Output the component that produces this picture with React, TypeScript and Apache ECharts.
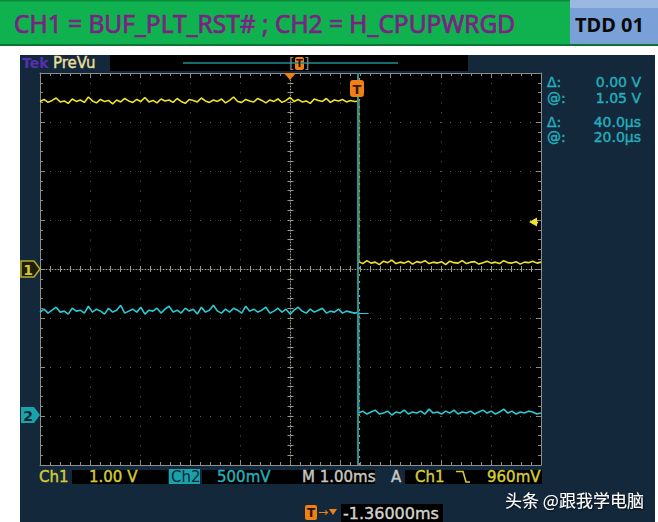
import React, { useEffect, useRef } from "react";
import * as echarts from "echarts";

// ---- data (volts) ----
const titleText = "CH1 = BUF_PLT_RST# ; CH2 = H_CPUPWRGD";
const tagText = "TDD 01";
const timeMin = -5; // ms (10 div, 1.00 ms/div)
const timeMax = 5;
const edgeTime = 1.36; // ms, trigger edge position

const ch1High = [
  3.42, 3.46, 3.40, 3.44, 3.49, 3.41, 3.43, 3.38, 3.47, 3.42,
  3.45, 3.40, 3.51, 3.43, 3.39, 3.46, 3.42, 3.44, 3.37, 3.45,
  3.41, 3.48, 3.43, 3.40, 3.46, 3.42, 3.50, 3.41, 3.44, 3.39,
  3.47, 3.43, 3.45, 3.40, 3.48, 3.42, 3.38, 3.46, 3.44, 3.41,
  3.49, 3.43, 3.40, 3.45, 3.42, 3.47, 3.39, 3.44, 3.51, 3.42,
  3.40, 3.46, 3.43, 3.41, 3.48, 3.44, 3.39, 3.45, 3.42, 3.47,
  3.40, 3.44, 3.50, 3.42, 3.46, 3.41, 3.43, 3.38, 3.47, 3.44,
  3.42, 3.48, 3.40, 3.45, 3.43, 3.46, 3.41, 3.44, 3.42, 3.43,
];
const ch1Low = [
  0.15, 0.11, 0.17, 0.12, 0.14, 0.09, 0.16, 0.13, 0.18, 0.11,
  0.14, 0.12, 0.16, 0.10, 0.15, 0.13, 0.17, 0.11, 0.14, 0.12,
  0.15, 0.09, 0.16, 0.13, 0.12, 0.17, 0.11, 0.14, 0.15, 0.10,
  0.13, 0.16, 0.12, 0.14, 0.11, 0.17, 0.13, 0.12, 0.15, 0.10,
  0.14, 0.13, 0.16, 0.12, 0.14,
];
const ch2High = [
  1.06, 1.09, 1.05, 1.08, 1.11, 1.06, 1.07, 1.04, 1.10, 1.07,
  1.08, 1.05, 1.12, 1.06, 1.09, 1.07, 1.04, 1.10, 1.06, 1.08,
  1.13, 1.05, 1.07, 1.09, 1.06, 1.11, 1.04, 1.08, 1.07, 1.10,
  1.05, 1.09, 1.12, 1.06, 1.08, 1.05, 1.10, 1.07, 1.09, 1.04,
  1.11, 1.06, 1.08, 1.13, 1.07, 1.05, 1.09, 1.06, 1.10, 1.08,
  1.05, 1.12, 1.07, 1.09, 1.06, 1.08, 1.11, 1.05, 1.07, 1.10,
  1.06, 1.09, 1.04, 1.08, 1.11, 1.07, 1.05, 1.09, 1.06, 1.08,
  1.10, 1.05, 1.07, 1.06, 1.09, 1.05, 1.07, 1.06, 1.05, 1.06,
];
const ch2Low = [
  0.03, 0.05, 0.02, 0.04, 0.06, 0.02, 0.03, 0.05, 0.01, 0.04,
  0.03, 0.06, 0.02, 0.04, 0.03, 0.05, 0.02, 0.07, 0.03, 0.04,
  0.02, 0.05, 0.03, 0.06, 0.02, 0.04, 0.03, 0.05, 0.02, 0.04,
  0.06, 0.03, 0.05, 0.02, 0.04, 0.07, 0.03, 0.05, 0.02, 0.04,
  0.03, 0.05, 0.04, 0.02, 0.03,
];

const cursorLabels = ["Δ:", "@:", "Δ:", "@:"];
const cursorValues = ["0.00 V", "1.05 V", "40.0µs", "20.0µs"];
const cursorVoltage = 1.05;
const cursorDelta = 0.04; // ms

const ch1Scale = "1.00 V";
const ch2Scale = "500mV";
const timeScale = "M 1.00ms";
const trigLevelText = "960mV";
const trigLevel = 0.96;
const horizPos = "-1.36000ms";
const watermark = "头条 @跟我学电脑";

const spread = (vals: number[], t0: number, t1: number) =>
  vals.map((v, i) => [t0 + ((t1 - t0) * i) / (vals.length - 1), v]);

const YELLOW = "#ece42c";
const CYAN = "#2ccad3";
const TEAL_TXT = "#23afbc";
const ORANGE = "#f07f14";
const NAVY = "#14283c";
const GRID = "#5e5e5e";
const BORDER = "#8c8c8c";
const FONT = '"DejaVu Sans"';

const txt = (
  x: number,
  y: number,
  text: string,
  fill: string,
  size: number,
  extra: any = {}
) => ({
  type: "text",
  x,
  y,
  z: 20,
  silent: true,
  style: {
    text,
    fill,
    font: `${extra.weight || "normal"} ${size}px ${extra.family || FONT}`,
    textAlign: extra.align || "left",
    align: extra.align || "left",
    textVerticalAlign: "middle",
    verticalAlign: "middle",
    lineHeight: extra.lineHeight || size,
    ...(extra.heavy ? { stroke: fill, lineWidth: 0.4 } : {}),
    ...(extra.style || {}),
  },
});

const rect = (x: number, y: number, w: number, h: number, fill: string, z = -10, r = 0) => ({
  type: "rect",
  z,
  silent: true,
  shape: { x, y, width: w, height: h, r },
  style: { fill },
});

export default function App() {
  const ref = useRef<HTMLDivElement>(null);

  useEffect(() => {
    if (!ref.current) return;
    const chart = echarts.init(ref.current, undefined, { renderer: "svg" });

    const ch1Data = [...spread(ch1High, timeMin, edgeTime), ...spread(ch1Low, edgeTime, timeMax)];
    const ch2Data = [...spread(ch2High, timeMin, edgeTime), ...spread(ch2Low, edgeTime, timeMax)];

    const hidden = { show: false };
    const borderAxisX = (position: string, split: boolean) => ({
      type: "value",
      min: timeMin,
      max: timeMax,
      interval: 1,
      position,
      axisLine: { show: true, onZero: false, lineStyle: { color: BORDER, width: 1 } },
      axisTick: { show: true, inside: true, length: 5, lineStyle: { color: BORDER } },
      minorTick: { show: true, splitNumber: 5, length: 3, lineStyle: { color: BORDER } },
      axisLabel: hidden,
      splitLine: { show: split, lineStyle: { color: GRID, type: [1, 8.8], width: 1 } },
    });
    const centerAxisX = (inside: boolean) => ({
      type: "value",
      min: timeMin,
      max: timeMax,
      interval: 1,
      position: "bottom",
      offset: -196,
      axisLine: { show: inside, onZero: false, lineStyle: { color: "#9a9a8a", type: [1, 2] } },
      axisTick: { show: true, inside, length: 3, lineStyle: { color: "#9a9a8a" } },
      minorTick: { show: true, splitNumber: 5, length: 3, lineStyle: { color: "#9a9a8a" } },
      axisLabel: hidden,
      splitLine: hidden,
    });
    const ch1Axis = (extra: any) => ({
      type: "value",
      min: -4,
      max: 4,
      interval: 1,
      axisLabel: hidden,
      ...extra,
    });

    const option: any = {
      animation: false,
      backgroundColor: "#ffffff",
      grid: { left: 40, top: 73, width: 501, height: 392, show: false },
      xAxis: [
        borderAxisX("bottom", true),
        borderAxisX("top", false),
        centerAxisX(true),
        centerAxisX(false),
      ],
      yAxis: [
        ch1Axis({
          position: "left",
          axisLine: { show: true, onZero: false, lineStyle: { color: BORDER } },
          axisTick: { show: true, inside: true, length: 5, lineStyle: { color: BORDER } },
          minorTick: { show: true, splitNumber: 5, length: 3, lineStyle: { color: BORDER } },
          splitLine: { show: true, lineStyle: { color: GRID, type: [1, 9], width: 1 } },
        }),
        {
          type: "value",
          min: -0.5,
          max: 3.5,
          interval: 0.5,
          position: "right",
          axisLabel: hidden,
          axisLine: { show: true, onZero: false, lineStyle: { color: BORDER } },
          axisTick: { show: true, inside: true, length: 5, lineStyle: { color: BORDER } },
          minorTick: { show: true, splitNumber: 5, length: 3, lineStyle: { color: BORDER } },
          splitLine: hidden,
        },
        ch1Axis({
          position: "left",
          offset: -250.5,
          axisLine: { show: true, onZero: false, lineStyle: { color: "#9a9a8a", type: [1, 2] } },
          axisTick: { show: true, inside: true, length: 3, lineStyle: { color: "#9a9a8a" } },
          minorTick: { show: true, splitNumber: 5, length: 3, lineStyle: { color: "#9a9a8a" } },
          splitLine: hidden,
        }),
        ch1Axis({
          position: "left",
          offset: -250.5,
          axisLine: { show: false, onZero: false },
          axisTick: { show: true, inside: false, length: 3, lineStyle: { color: "#9a9a8a" } },
          minorTick: { show: true, splitNumber: 5, length: 3, lineStyle: { color: "#9a9a8a" } },
          splitLine: hidden,
        }),
      ],
      series: [
        {
          type: "line",
          name: "CH1",
          xAxisIndex: 0,
          yAxisIndex: 0,
          data: ch1Data,
          showSymbol: false,
          symbol: "none",
          silent: true,
          z: 3,
          lineStyle: { color: YELLOW, width: 1.6 },
          markLine: {
            silent: true,
            symbol: "none",
            label: { show: false },
            lineStyle: { color: "#1e96a2", width: 2, type: "solid" },
            data: [{ xAxis: edgeTime - cursorDelta / 2 }],
          },
        },
        {
          type: "line",
          name: "CH2",
          xAxisIndex: 0,
          yAxisIndex: 1,
          data: ch2Data,
          showSymbol: false,
          symbol: "none",
          silent: true,
          z: 4,
          lineStyle: { color: CYAN, width: 1.6 },
          markLine: {
            silent: true,
            symbol: "none",
            label: { show: false },
            data: [
              {
                xAxis: edgeTime + cursorDelta / 2,
                lineStyle: { color: "#d9802a", width: 1.2, type: [2, 5] },
              },
              [
                { coord: [edgeTime, cursorVoltage], lineStyle: { color: CYAN, width: 1, type: "solid" } },
                { coord: [edgeTime + 0.2, cursorVoltage] },
              ],
            ],
          },
        },
        {
          type: "line",
          name: "trigger level",
          xAxisIndex: 0,
          yAxisIndex: 0,
          data: [],
          silent: true,
          markPoint: {
            silent: true,
            symbol: "triangle",
            symbolSize: [9, 8],
            symbolRotate: 90,
            symbolOffset: [-8, 0],
            label: { show: false },
            itemStyle: { color: YELLOW },
            data: [{ coord: [timeMax, trigLevel] }],
          },
        },
      ],
      graphic: [
        // backgrounds
        rect(0, 0, 658, 46, "#10b24f", -10),
        rect(0, 0, 658, 1.5, "#0b8a3e", -9),
        rect(0, 44, 658, 2, "#0a7434", -9),
        rect(570, 0, 88, 44, "#79a1d8", -9),
        rect(570, 0, 88, 8, "#9ab8e2", -9),
        rect(20, 55, 635, 467, NAVY, -10),
        rect(110, 55, 358, 16, "#000000", -9),
        rect(40, 73, 501, 392, "#000000", -9),
        // banner texts
        txt(14, 23, titleText, "#7a2382", 24.5, {
          family: '"Noto Sans"',
          style: { stroke: "#7a2382", lineWidth: 0.7 },
        }),
        txt(575, 24, tagText, "#0a0a0a", 20, { family: '"Noto Sans"', weight: "bold" }),
        // top bar
        txt(22, 63, "Tek", "#5530b0", 14, { weight: "bold" }),
        txt(53, 63, "PreVu", "#e8df9c", 15, { heavy: true }),
        {
          type: "line",
          z: 20,
          silent: true,
          shape: { x1: 183, y1: 63, x2: 398, y2: 63 },
          style: { stroke: "#1c8f99", lineWidth: 1.5 },
        },
        txt(289, 63, "[", "#8a8a8a", 14),
        txt(304, 63, "]", "#8a8a8a", 14),
        rect(295, 57, 9, 13, ORANGE, 19, 2),
        txt(299.5, 63.5, "T", "#2a1400", 10, { align: "center", weight: "bold" }),
        // trigger markers
        {
          type: "polygon",
          z: 20,
          silent: true,
          shape: { points: [[284, 73], [296, 73], [290, 80]] },
          style: { fill: ORANGE },
        },
        rect(350, 80, 14, 17, ORANGE, 19, 3),
        txt(357, 89, "T", "#3a1800", 13, { align: "center", weight: "bold" }),
        {
          type: "line",
          z: 20,
          silent: true,
          shape: { x1: 532, y1: 222.5, x2: 538, y2: 222.5 },
          style: { stroke: YELLOW, lineWidth: 2 },
        },
        // channel ground markers
        {
          type: "polygon",
          z: 20,
          silent: true,
          shape: { points: [[21, 261], [34, 261], [40, 269], [34, 277], [21, 277]] },
          style: { fill: "#1e1e0a", stroke: "#b8ac26", lineWidth: 1.5 },
        },
        txt(28, 269.5, "1", "#d4c632", 14, { align: "center", weight: "bold" }),
        {
          type: "polygon",
          z: 20,
          silent: true,
          shape: { points: [[21, 407], [34, 407], [40, 415], [34, 423], [21, 423]] },
          style: { fill: "#1aa2ab" },
        },
        txt(28, 415.5, "2", "#0c2433", 14, { align: "center", weight: "bold" }),
        // cursor readouts
        ...cursorLabels.map((l, i) =>
          txt(547, [82, 98, 122, 137][i], l, TEAL_TXT, 14, { lineHeight: 13, heavy: true })
        ),
        ...cursorValues.map((v, i) =>
          txt(641, [82, 98, 122, 137][i], v, TEAL_TXT, 14, { align: "right", lineHeight: 13, heavy: true })
        ),
        // bottom status bar
        txt(39, 477, "Ch1", "#d6cc34", 15, { heavy: true }),
        rect(72, 470, 96, 14, "#000000", 15),
        txt(89, 477, ch1Scale, "#d6cc34", 15, { heavy: true }),
        rect(169, 469, 31, 15, "#1aa2ab", 15),
        txt(171, 477, "Ch2", "#0c2433", 15),
        rect(202, 470, 98, 14, "#000000", 15),
        txt(217, 477, ch2Scale, TEAL_TXT, 15, { heavy: true }),
        rect(300, 470, 75, 14, "#000000", 15),
        txt(302, 477, timeScale, "#c8c8c0", 15, { heavy: true }),
        txt(391, 477, "A", "#c8c8c0", 15, { heavy: true }),
        rect(405, 470, 137, 14, "#000000", 15),
        txt(415, 477, "Ch1", "#d6cc34", 15, { heavy: true }),
        {
          type: "polyline",
          z: 20,
          silent: true,
          shape: { points: [[456, 471.5], [463, 471.5], [466, 482], [470, 482]] },
          style: { stroke: "#d6cc34", lineWidth: 1.6, fill: null },
        },
        txt(487, 477, trigLevelText, "#d6cc34", 15, { heavy: true }),
        rect(305, 505, 12, 15, ORANGE, 15, 2),
        txt(311, 513, "T", "#2a1400", 12, { align: "center", weight: "bold" }),
        txt(318, 512, "→", ORANGE, 12),
        {
          type: "polygon",
          z: 20,
          silent: true,
          shape: { points: [[329, 509], [337, 509], [333, 515]] },
          style: { fill: ORANGE },
        },
        rect(341, 504, 102, 18, "#000000", 15),
        txt(343, 513, horizPos, "#d2d2cc", 16, { heavy: true }),
        // watermark
        txt(505, 499, watermark, "#ffffff", 17, {
          family: '"Noto Sans CJK SC"',
          style: { textShadowColor: "rgba(0,0,0,0.8)", textShadowBlur: 2, textShadowOffsetX: 1, textShadowOffsetY: 1 },
        }),
      ],
    };

    chart.setOption(option);
    return () => chart.dispose();
  }, []);

  return (
    <div
      ref={ref}
      style={{ position: "absolute", left: 0, top: 0, width: 658, height: 522 }}
    />
  );
}
